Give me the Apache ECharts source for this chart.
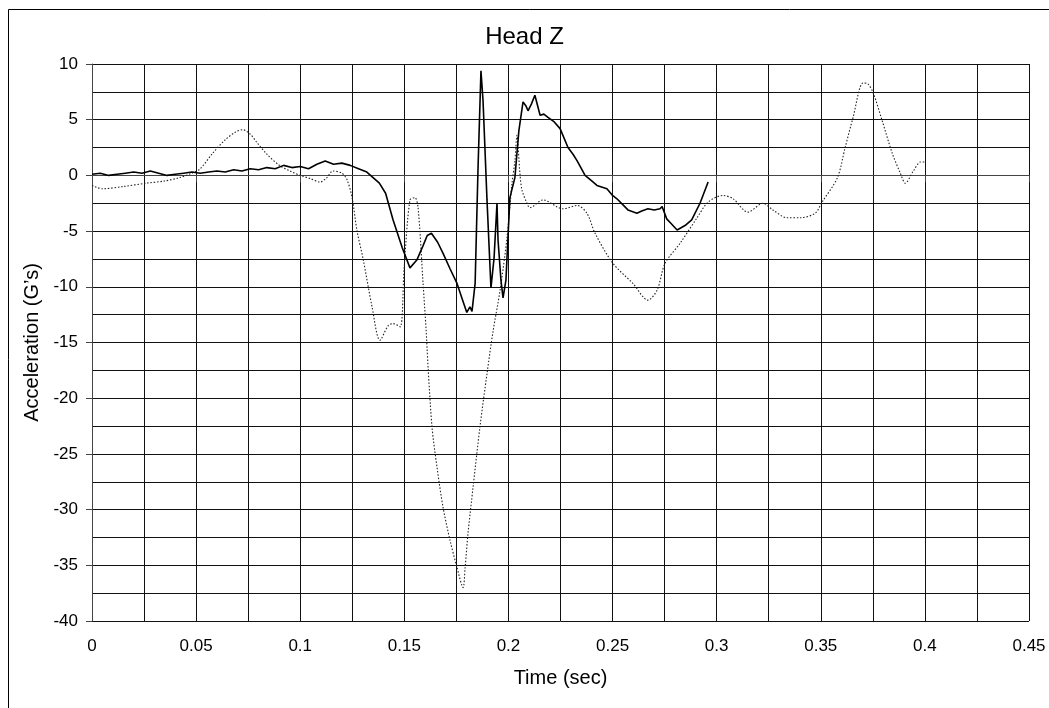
<!DOCTYPE html>
<html>
<head>
<meta charset="utf-8">
<script src="https://cdn.jsdelivr.net/npm/echarts@6/dist/echarts.min.js"></script>
<style>
html,body{margin:0;padding:0;background:#fff;}
#chart{width:1049px;height:708px;}
</style>
</head>
<body>
<div id="chart"></div>
<script>
const titleText = "Head Z";
const xAxisName = "Time (sec)";
const yAxisName = "Acceleration (G\u2019s)";

const solidTime = [0.000,0.004,0.008,0.012,0.016,0.020,0.024,0.028,0.032,0.036,0.040,0.044,0.048,0.052,0.056,0.060,0.064,0.068,0.072,0.076,0.080,0.084,0.088,0.092,0.096,0.100,0.104,0.108,0.112,0.116,0.120,0.124,0.128,0.132,0.135,0.138,0.141,0.1446,0.149,0.1527,0.156,0.159,0.161,0.163,0.166,0.1686,0.172,0.1753,0.178,0.180,0.1815,0.1825,0.184,0.1854,0.1868,0.1878,0.1897,0.1916,0.1931,0.1945,0.195,0.1964,0.1974,0.1988,0.2007,0.2031,0.205,0.207,0.2085,0.2094,0.211,0.2127,0.2152,0.217,0.219,0.222,0.2248,0.2286,0.231,0.233,0.2368,0.240,0.2425,0.2473,0.250,0.2521,0.2574,0.2617,0.264,0.267,0.270,0.2728,0.2738,0.276,0.278,0.281,0.2848,0.288,0.292,0.2959];
const solidAccel = [0.1,0.2,0.0,0.1,0.2,0.3,0.2,0.4,0.2,0.0,0.1,0.2,0.3,0.2,0.3,0.4,0.3,0.5,0.4,0.6,0.5,0.7,0.6,0.9,0.7,0.8,0.6,1.0,1.3,1.0,1.1,0.9,0.6,0.3,-0.2,-0.7,-1.6,-4.0,-6.5,-8.3,-7.6,-6.3,-5.4,-5.2,-6.0,-7.0,-8.4,-9.7,-11.2,-12.3,-11.8,-12.2,-9.7,0.7,9.4,6.7,-2.2,-10.1,-7.4,-2.5,-5.8,-9.4,-11.0,-9.4,-2.0,-0.2,4.0,6.6,6.2,5.8,6.4,7.2,5.4,5.5,5.2,4.8,4.2,2.5,1.9,1.3,0.0,-0.5,-0.9,-1.2,-1.8,-2.1,-3.1,-3.4,-3.2,-3.0,-3.1,-3.0,-2.8,-3.9,-4.3,-4.9,-4.5,-4.0,-2.5,-0.6];

const dottedTime = [0.000,0.005,0.015,0.026,0.035,0.042,0.048,0.052,0.058,0.064,0.069,0.0725,0.076,0.079,0.084,0.090,0.095,0.100,0.105,0.1095,0.1128,0.1157,0.120,0.1225,0.1249,0.1273,0.1302,0.1345,0.1383,0.1422,0.1446,0.148,0.1499,0.1527,0.1551,0.1566,0.159,0.1605,0.1614,0.1633,0.1657,0.1686,0.172,0.1753,0.1782,0.1792,0.1806,0.183,0.1863,0.1897,0.1926,0.196,0.1993,0.2017,0.2031,0.2041,0.2055,0.2065,0.2089,0.2103,0.2166,0.2262,0.233,0.2377,0.2416,0.2502,0.2598,0.267,0.2714,0.2752,0.2824,0.2906,0.2959,0.303,0.3079,0.315,0.3223,0.327,0.3338,0.340,0.3473,0.3506,0.358,0.3617,0.3655,0.3703,0.3727,0.3752,0.3795,0.3843,0.3882,0.3906,0.3945,0.3979,0.400];
const dottedAccel = [-0.9,-1.2,-1.0,-0.7,-0.5,-0.2,0.2,0.6,2.0,3.2,3.9,4.1,3.7,3.0,1.9,0.9,0.4,0.0,-0.3,-0.6,-0.2,0.4,0.2,-0.4,-2.0,-5.0,-7.5,-11.8,-14.8,-13.5,-13.3,-13.6,-8.3,-2.2,-2.0,-2.9,-9.7,-14.0,-17.2,-22.6,-26.2,-29.8,-32.8,-35.2,-37.0,-35.2,-32.1,-28.0,-22.6,-17.8,-14.0,-10.3,-5.6,-0.7,1.3,3.6,0.2,-1.3,-2.5,-2.9,-2.2,-3.0,-2.7,-3.4,-5.2,-7.9,-9.7,-11.2,-10.3,-7.9,-6.1,-3.8,-2.4,-1.8,-2.1,-3.3,-2.5,-3.1,-3.8,-3.8,-3.4,-2.4,-0.2,2.5,5.2,8.3,8.2,7.4,4.9,2.0,0.2,-0.7,0.4,1.2,1.2];

const xMin = 0, xMax = 0.45, xStep = 0.05;
const yMin = -40, yMax = 10, yStep = 5;

const pairs = (xs, ys) => xs.map((x, i) => [x, ys[i]]);
const FONT = "'Liberation Sans', Arial, Helvetica, sans-serif";
const gridLine = { show: true, lineStyle: { color: '#111', width: 1 } };

const chart = echarts.init(document.getElementById('chart'), null, { renderer: 'canvas' });
chart.setOption({
  animation: false,
  backgroundColor: '#fff',
  title: {
    text: titleText, left: 'center', top: 20,
    textStyle: { fontFamily: FONT, fontSize: 24, fontWeight: 'normal', color: '#000' }
  },
  graphic: [{
    type: 'rect', left: 6, top: 7, silent: true,
    shape: { width: 1200, height: 800 },
    style: { fill: 'none', stroke: '#000', lineWidth: 1 }
  }],
  grid: { left: 92, right: 20, top: 64, bottom: 87 },
  xAxis: {
    type: 'value', min: xMin, max: xMax, interval: xStep,
    name: xAxisName, nameLocation: 'middle', nameGap: 47,
    nameTextStyle: { fontFamily: FONT, fontSize: 20, color: '#000' },
    axisLine: { show: true, lineStyle: { color: '#444', width: 1 } },
    axisTick: { show: true, length: 7, lineStyle: { color: '#444' } },
    axisLabel: { fontFamily: FONT, fontSize: 17, color: '#000', margin: 17 },
    splitLine: gridLine,
    minorTick: { show: false, splitNumber: 2 },
    minorSplitLine: { show: true, lineStyle: { color: '#111', width: 1 } }
  },
  yAxis: {
    type: 'value', min: yMin, max: yMax, interval: yStep,
    name: yAxisName, nameLocation: 'middle', nameGap: 50, nameRotate: 90,
    nameTextStyle: { fontFamily: FONT, fontSize: 20, color: '#000' },
    axisLine: { show: true, lineStyle: { color: '#444', width: 1 } },
    axisTick: { show: true, length: 6, lineStyle: { color: '#444' } },
    axisLabel: { fontFamily: FONT, fontSize: 17, color: '#000', margin: 14 },
    splitLine: gridLine,
    minorTick: { show: false, splitNumber: 2 },
    minorSplitLine: { show: true, lineStyle: { color: '#111', width: 1 } }
  },
  series: [
    {
      type: 'line', name: 'dotted', data: pairs(dottedTime, dottedAccel),
      showSymbol: false, smooth: 0.3,
      lineStyle: { color: '#222', width: 1.1, type: [1.5, 1.8] }, z: 3
    },
    {
      type: 'line', name: 'solid', data: pairs(solidTime, solidAccel),
      showSymbol: false,
      lineStyle: { color: '#000', width: 1.6 }, z: 4
    }
  ]
});
</script>
</body>
</html>
